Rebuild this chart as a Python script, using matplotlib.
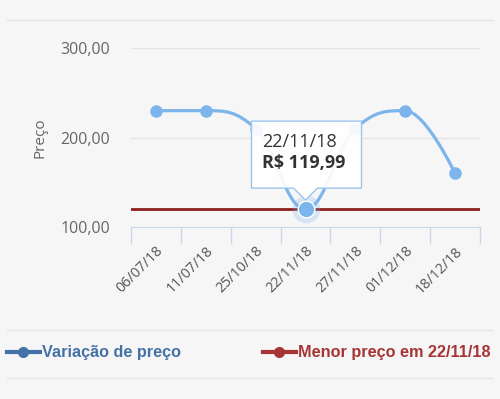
import numpy as np
import matplotlib
matplotlib.use("Agg")
from matplotlib import pyplot as plt
from matplotlib.path import Path
from matplotlib.patches import PathPatch, Polygon
from matplotlib.lines import Line2D

datas = ["06/07/18", "11/07/18", "25/10/18", "22/11/18", "27/11/18", "01/12/18", "18/12/18"]
precos = [229.99, 229.99, 209.99, 119.99, 209.99, 229.99, 159.99]
menor_preco = 119.99
menor_idx = 3
y_ticks = [100, 200, 300]
y_labels = ["100,00", "200,00", "300,00"]

BG = "#f6f6f6"
AZUL = "#7cb5ec"
VERMELHO = "#8e1f1f"


def spline_path(xs, ys, smoothing=1.5):
    # bezier parecido com o spline do highcharts
    n = len(xs)
    denom = smoothing + 1
    left = [(xs[i], ys[i]) for i in range(n)]
    right = [(xs[i], ys[i]) for i in range(n)]
    for i in range(1, n - 1):
        lx, ly = xs[i - 1], ys[i - 1]
        px, py = xs[i], ys[i]
        nx, ny = xs[i + 1], ys[i + 1]
        lcx = (smoothing * px + lx) / denom
        lcy = (smoothing * py + ly) / denom
        rcx = (smoothing * px + nx) / denom
        rcy = (smoothing * py + ny) / denom
        corr = ((rcy - lcy) * (rcx - px)) / (rcx - lcx) + py - rcy
        lcy += corr
        rcy += corr
        if lcy > ly and lcy > py:
            lcy = max(ly, py)
            rcy = 2 * py - lcy
        elif lcy < ly and lcy < py:
            lcy = min(ly, py)
            rcy = 2 * py - lcy
        if rcy > ny and rcy > py:
            rcy = max(ny, py)
            lcy = 2 * py - rcy
        elif rcy < ny and rcy < py:
            rcy = min(ny, py)
            lcy = 2 * py - rcy
        left[i] = (lcx, lcy)
        right[i] = (rcx, rcy)
    verts = [(xs[0], ys[0])]
    codes = [Path.MOVETO]
    for i in range(1, n):
        verts += [right[i - 1], left[i], (xs[i], ys[i])]
        codes += [Path.CURVE4] * 3
    return Path(verts, codes)


W, H = 500, 399
fig = plt.figure(figsize=(W / 100, H / 100), dpi=100, facecolor=BG)
ax = fig.add_axes([131 / W, 1 - 227 / H, (480 - 131) / W, (227 - 48) / H])
ax.set_facecolor(BG)

xs = np.arange(len(datas))
ax.set_xlim(-0.5, len(datas) - 0.5)
ax.set_ylim(100, 300)

for y in y_ticks[1:]:
    ax.axhline(y, color="#e6e6e6", lw=1, zorder=0)

ax.axhline(menor_preco, color=VERMELHO, lw=2, zorder=2)

ax.add_patch(PathPatch(spline_path(list(xs), precos), fill=False, edgecolor=AZUL,
                       lw=2.3, capstyle="round", zorder=3))
ax.plot(xs, precos, "o", color=AZUL, ms=8, zorder=4)
ax.plot(xs[menor_idx], precos[menor_idx], "o", color=AZUL, ms=20, alpha=0.25,
        mec="none", zorder=4)
ax.plot(xs[menor_idx], precos[menor_idx], "o", color=AZUL, ms=12, mec="white",
        mew=1, zorder=5)

for s in ["top", "right", "left"]:
    ax.spines[s].set_visible(False)
ax.spines["bottom"].set_color("#ccd6eb")

ax.set_yticks(y_ticks)
ax.set_yticklabels(y_labels, fontsize=11.5, color="#666666", family="Open Sans")
ax.tick_params(axis="y", length=0, pad=15)

ax.set_xticks(np.arange(-0.5, len(datas)), minor=True)
ax.tick_params(axis="x", which="minor", length=12, color="#ccd6eb", width=1)
ax.set_xticks(xs)
ax.set_xticklabels(datas, rotation=45, ha="right", rotation_mode="anchor",
                   fontsize=10.3, color="#555555", family="Open Sans")
ax.tick_params(axis="x", which="major", length=0, pad=12)

ax.set_ylabel("Preço", fontsize=11, color="#666666", family="Open Sans", labelpad=9)

# tooltip
fig.canvas.draw()
px, py = ax.transData.transform((xs[menor_idx], precos[menor_idx]))
py = H - py
box = [(px - 54, py - 88), (px + 56, py - 88), (px + 56, py - 21), (px + 12, py - 21),
       (px, py - 9), (px - 12, py - 21), (px - 54, py - 21)]
box = [(x / W, 1 - y / H) for x, y in box]
fig.patches.append(Polygon(box, closed=True, transform=fig.transFigure, facecolor="white",
                           alpha=0.92, edgecolor="none", zorder=10))
fig.patches.append(Polygon(box, closed=True, transform=fig.transFigure, facecolor="none",
                           edgecolor="#9cc5ee", lw=1, zorder=11))
fig.text((px - 43) / W, 1 - (py - 67) / H, datas[menor_idx], fontsize=13,
         color="#333333", family="Open Sans", va="center", zorder=12)
fig.text((px - 43) / W, 1 - (py - 46) / H, "R$ 119,99", fontsize=13, weight="bold",
         color="#333333", family="Open Sans", va="center", zorder=12)

# linhas separadoras
for y in [20, 330, 378]:
    fig.add_artist(Line2D([7 / W, 493 / W], [1 - y / H, 1 - y / H], color="#e6e6e6",
                          lw=1, transform=fig.transFigure))

# legenda
leg_y = 1 - 352 / H
fig.add_artist(Line2D([7 / W, 40 / W], [leg_y, leg_y], color="#4572a7", lw=3,
                      transform=fig.transFigure))
fig.add_artist(Line2D([23 / W], [leg_y], marker="o", ms=7, color="#4572a7",
                      transform=fig.transFigure))
fig.text(42 / W, leg_y, "Variação de preço", fontsize=11.7, weight="bold", color="#4572a7",
         family="Liberation Sans", va="center")
fig.add_artist(Line2D([263 / W, 296 / W], [leg_y, leg_y], color="#a83535", lw=3,
                      transform=fig.transFigure))
fig.add_artist(Line2D([279 / W], [leg_y], marker="o", ms=7, color="#a83535",
                      transform=fig.transFigure))
fig.text(298 / W, leg_y, "Menor preço em 22/11/18", fontsize=11.7, weight="bold",
         color="#a83535", family="Liberation Sans", va="center")

fig.savefig("out.png", dpi=100, facecolor=BG)
